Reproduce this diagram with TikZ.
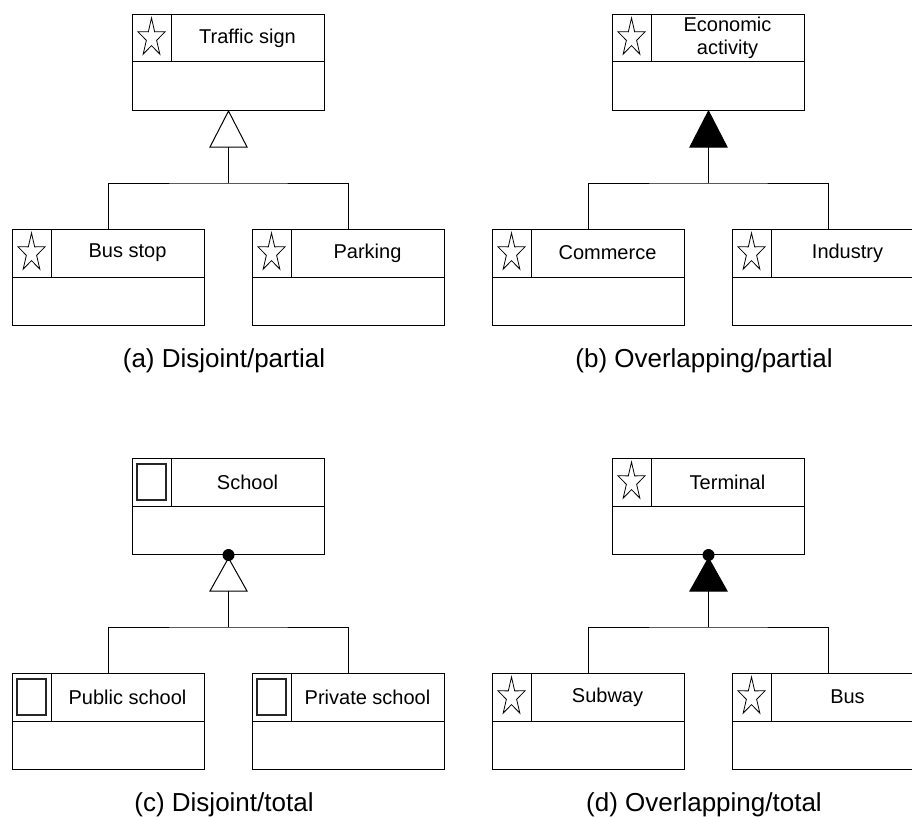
\documentclass[tikz,border=0pt]{standalone}
\usepackage{fontspec}
\setmainfont{Liberation Sans}
\usetikzlibrary{calc}
\tikzset{
  classbox/.style={draw, line width=1pt, minimum width=192pt, minimum height=96pt, inner sep=0pt, anchor=north west},
  sepline/.style={line width=1pt},
  nametext/.style={font=\fontsize{20}{23}\selectfont, align=center, inner sep=0pt},
  captiontext/.style={font=\fontsize{26}{30}\selectfont, anchor=base, inner sep=0pt},
  conn/.style={line width=1pt},
  gentri/.style={line width=1pt, fill=white, line join=miter},
  gentrifull/.style={line width=1pt, fill=black, line join=miter},
  totaldot/.style={circle, fill=black, minimum size=12pt, inner sep=0pt},
  starline/.style={line width=0.8pt, line join=miter},
  rectline/.style={line width=1.5pt, draw=black!85},
}
\newcommand\drawstar[1]{\draw[starline, shift={(#1)}, xscale=0.71]
  (-90:20) -- (-54:7.6) -- (-18:20) -- (18:7.6) -- (54:20) -- (90:7.6)
  -- (126:20) -- (162:7.6) -- (198:20) -- (234:7.6) -- cycle;}
\newcommand\drawrect[1]{\draw[rectline] ([shift={(-14.5,-18)}]#1) rectangle ([shift={(14.5,18)}]#1);}
\newcommand\mkclass[5]{%
  \node[classbox] (#1) at (#2,#3) {};
  \draw[sepline] ([yshift=-48pt]#1.north west) -- ([yshift=-48pt]#1.north east);
  \draw[sepline] ([xshift=39pt]#1.north west) -- ([xshift=39pt,yshift=-48pt]#1.north west);
  \node[nametext] (#1-name) at ([xshift=115.5pt,yshift=-24pt]#1.north west) {#4};
  \coordinate (#1-icon) at ([xshift=19.5pt,yshift=-24pt]#1.north west);
  #5{#1-icon}%
}
\begin{document}
\begin{tikzpicture}[x=1pt, y=-1pt]
\useasboundingbox (0,0) rectangle (912,816);
\clip (0,0) rectangle (912,816);

% (a) Disjoint/partial
\mkclass{ts}{132}{14}{Traffic sign}{\drawstar}
\mkclass{bs}{12}{229}{Bus stop}{\drawstar}
\mkclass{pk}{252}{229}{Parking}{\drawstar}
\draw[gentri] (ts.south) -- ++(18.5,36) -- ++(-37,0) -- cycle;
\coordinate (a-base) at ([yshift=-36pt]ts.south);
\coordinate (a-join) at ([yshift=-72pt]ts.south);
\draw[conn] (a-base) -- (a-join);
\draw[conn] (bs.north) |- (a-join) -| (pk.north);
\node[captiontext] (a-cap) at (224,367) {(a) Disjoint/partial};

% (b) Overlapping/partial
\mkclass{ea}{612}{14}{Economic\\activity}{\drawstar}
\mkclass{cm}{492}{229}{Commerce}{\drawstar}
\mkclass{in}{732}{229}{Industry}{\drawstar}
\draw[gentrifull] (ea.south) -- ++(18.5,36) -- ++(-37,0) -- cycle;
\coordinate (b-base) at ([yshift=-36pt]ea.south);
\coordinate (b-join) at ([yshift=-72pt]ea.south);
\draw[conn] (b-base) -- (b-join);
\draw[conn] (cm.north) |- (b-join) -| (in.north);
\node[captiontext] (b-cap) at (704,367) {(b) Overlapping/partial};

% (c) Disjoint/total
\mkclass{sc}{132}{458}{School}{\drawrect}
\mkclass{pu}{12}{673}{Public school}{\drawrect}
\mkclass{pr}{252}{673}{Private school}{\drawrect}
\draw[gentri] ([yshift=-3pt]sc.south) -- ++(18.5,33) -- ++(-37,0) -- cycle;
\node[totaldot] (c-dot) at (sc.south) {};
\coordinate (c-base) at ([yshift=-36pt]sc.south);
\coordinate (c-join) at ([yshift=-72pt]sc.south);
\draw[conn] (c-base) -- (c-join);
\draw[conn] (pu.north) |- (c-join) -| (pr.north);
\node[captiontext] (c-cap) at (224,811) {(c) Disjoint/total};

% (d) Overlapping/total
\mkclass{tm}{612}{458}{Terminal}{\drawstar}
\mkclass{sw}{492}{673}{Subway}{\drawstar}
\mkclass{bu}{732}{673}{Bus}{\drawstar}
\draw[gentrifull] ([yshift=-3pt]tm.south) -- ++(18.5,33) -- ++(-37,0) -- cycle;
\node[totaldot] (d-dot) at (tm.south) {};
\coordinate (d-base) at ([yshift=-36pt]tm.south);
\coordinate (d-join) at ([yshift=-72pt]tm.south);
\draw[conn] (d-base) -- (d-join);
\draw[conn] (sw.north) |- (d-join) -| (bu.north);
\node[captiontext] (d-cap) at (704,811) {(d) Overlapping/total};
\end{tikzpicture}
\end{document}
